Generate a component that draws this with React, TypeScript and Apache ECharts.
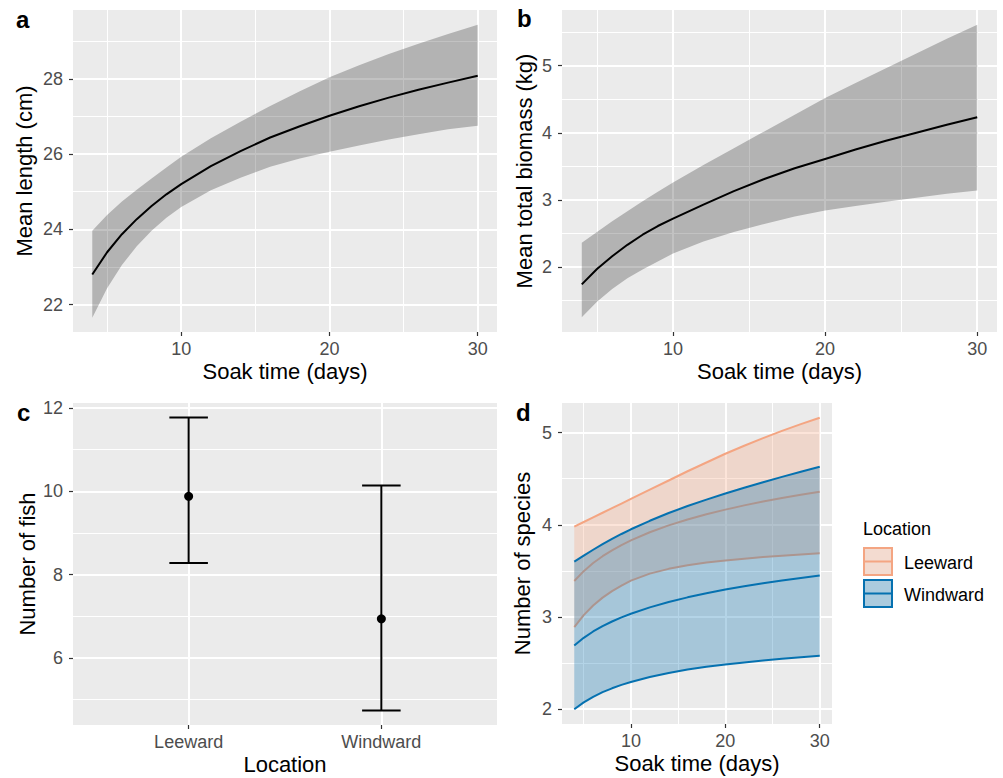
import React, { useEffect, useRef } from "react";
import * as echarts from "echarts";

// ---------- data ----------
const soakDays = [4, 5, 6, 7, 8, 9, 10, 12, 14, 16, 18, 20, 22, 24, 26, 28, 30];

const lengthMean = [22.8, 23.39, 23.87, 24.27, 24.62, 24.93, 25.2, 25.68, 26.08, 26.44, 26.74, 27.02, 27.27, 27.5, 27.71, 27.9, 28.08];
const lengthUpper = [23.96, 24.38, 24.74, 25.05, 25.35, 25.64, 25.93, 26.42, 26.86, 27.28, 27.67, 28.04, 28.36, 28.66, 28.93, 29.19, 29.44];
const lengthLower = [21.65, 22.43, 23.05, 23.55, 23.96, 24.31, 24.59, 25.04, 25.37, 25.66, 25.88, 26.06, 26.23, 26.39, 26.53, 26.66, 26.75];

const biomassMean = [1.74, 1.97, 2.16, 2.33, 2.48, 2.61, 2.72, 2.93, 3.13, 3.31, 3.47, 3.61, 3.75, 3.88, 4.0, 4.12, 4.23];
const biomassUpper = [2.36, 2.52, 2.68, 2.83, 2.98, 3.12, 3.26, 3.52, 3.77, 4.02, 4.27, 4.52, 4.74, 4.96, 5.18, 5.4, 5.61];
const biomassLower = [1.25, 1.48, 1.67, 1.83, 1.96, 2.08, 2.2, 2.38, 2.52, 2.64, 2.75, 2.84, 2.91, 2.97, 3.03, 3.09, 3.14];

const locations = ["Leeward", "Windward"];
const fishMean = [9.88, 6.94];
const fishLower = [8.28, 4.74];
const fishUpper = [11.77, 10.14];

const leewardUpper = [3.98, 4.03, 4.08, 4.13, 4.18, 4.23, 4.28, 4.38, 4.48, 4.58, 4.675, 4.77, 4.857, 4.94, 5.018, 5.091, 5.16];
const leewardMean = [3.39, 3.497, 3.585, 3.659, 3.723, 3.78, 3.831, 3.919, 3.993, 4.057, 4.113, 4.164, 4.21, 4.252, 4.29, 4.326, 4.359];
const leewardLower = [2.89, 3.02, 3.125, 3.21, 3.28, 3.34, 3.395, 3.47, 3.522, 3.562, 3.59, 3.612, 3.632, 3.65, 3.665, 3.678, 3.69];
const windwardUpper = [3.6, 3.666, 3.729, 3.789, 3.846, 3.9, 3.951, 4.043, 4.127, 4.203, 4.273, 4.339, 4.401, 4.461, 4.519, 4.575, 4.629];
const windwardMean = [2.69, 2.774, 2.843, 2.901, 2.951, 2.996, 3.035, 3.104, 3.162, 3.213, 3.257, 3.297, 3.333, 3.366, 3.396, 3.424, 3.45];
const windwardLower = [2.0, 2.075, 2.135, 2.185, 2.227, 2.264, 2.296, 2.35, 2.394, 2.43, 2.46, 2.485, 2.508, 2.528, 2.547, 2.564, 2.58];

// tick / gridline values
const soakTicks = [10, 20, 30];
const soakMinor = [5, 15, 25];
const lengthTicks = [22, 24, 26, 28];
const lengthMinor = [23, 25, 27, 29];
const biomassTicks = [2, 3, 4, 5];
const biomassMinor = [1.5, 2.5, 3.5, 4.5, 5.5];
const fishTicks = [6, 8, 10, 12];
const fishMinor = [5, 7, 9, 11];
const speciesTicks = [2, 3, 4, 5];
const speciesMinor = [2.5, 3.5, 4.5];

// ---------- styling ----------
const FONT = '"Liberation Sans", Arial, Helvetica, sans-serif';
const PANEL_BG = "#EBEBEB";
const TICK_COLOR = "#333333";
const LABEL_COLOR = "#4D4D4D";
const LEE = "#F4A582";
const WIND = "#0571B0";
const CAP = 0.1;

const pairs = (xs: number[], ys: number[]) => xs.map((x, i) => [x, ys[i]]);

function xAxisDef(gridIndex: number, min: number, max: number, ticks: number[], name: string, formatter?: any) {
  return {
    type: "value",
    gridIndex,
    min,
    max,
    name,
    nameLocation: "middle",
    nameGap: 28,
    nameTextStyle: { color: "#000", fontSize: 22, fontFamily: FONT, lineHeight: 22 },
    axisLine: { show: false },
    axisTick: { show: true, length: 4, customValues: ticks, lineStyle: { color: TICK_COLOR, width: 1.2 } },
    axisLabel: {
      show: true,
      customValues: ticks,
      margin: 8,
      color: LABEL_COLOR,
      fontSize: 18,
      fontFamily: FONT,
      lineHeight: 18,
      formatter: formatter || ((v: number) => String(v)),
    },
    splitLine: { show: false },
    minorSplitLine: { show: false },
  };
}

function yAxisDef(gridIndex: number, min: number, max: number, ticks: number[], name: string, nameGap: number) {
  return {
    type: "value",
    gridIndex,
    min,
    max,
    name,
    nameLocation: "middle",
    nameGap,
    nameTextStyle: { color: "#000", fontSize: 22, fontFamily: FONT, lineHeight: 22 },
    axisLine: { show: false },
    axisTick: { show: true, length: 4, customValues: ticks, lineStyle: { color: TICK_COLOR, width: 1.2 } },
    axisLabel: {
      show: true,
      customValues: ticks,
      margin: 10,
      color: LABEL_COLOR,
      fontSize: 18,
      fontFamily: FONT,
      lineHeight: 18,
      formatter: (v: number) => String(v),
    },
    splitLine: { show: false },
    minorSplitLine: { show: false },
  };
}

function gridMarks(xMajor: number[], xMinor: number[], yMajor: number[], yMinor: number[]) {
  const minor = { width: 1, color: "#FFFFFF", type: "solid" };
  const major = { width: 2, color: "#FFFFFF", type: "solid" };
  return {
    silent: true,
    z: 1,
    symbol: ["none", "none"],
    label: { show: false },
    emphasis: { disabled: true },
    lineStyle: major,
    data: [
      ...xMinor.map((v) => ({ xAxis: v, lineStyle: minor })),
      ...yMinor.map((v) => ({ yAxis: v, lineStyle: minor })),
      ...xMajor.map((v) => ({ xAxis: v, lineStyle: major })),
      ...yMajor.map((v) => ({ yAxis: v, lineStyle: major })),
    ],
  };
}

// ribbon between lower and upper drawn as one polygon through the axis scales
function bandSeries(idx: number, lower: number[], upper: number[], fill: string, z: number, extra: any = {}) {
  return {
    type: "custom",
    xAxisIndex: idx,
    yAxisIndex: idx,
    silent: true,
    z,
    data: soakDays.map((x, i) => [x, lower[i], upper[i]]),
    encode: { x: 0, y: [1, 2] },
    renderItem: (params: any, api: any) => {
      if (params.dataIndexInside !== 0) return null;
      const n = soakDays.length;
      const top: number[][] = [];
      const bottom: number[][] = [];
      for (let i = 0; i < n; i++) {
        const x = api.value(0, i);
        top.push(api.coord([x, api.value(2, i)]));
        bottom.push(api.coord([x, api.value(1, i)]));
      }
      return {
        type: "polygon",
        shape: { points: top.concat(bottom.reverse()) },
        style: { fill, stroke: "none" },
      };
    },
    ...extra,
  };
}

function lineSeries(idx: number, ys: number[], color: string, z: number, extra: any = {}) {
  return {
    type: "line",
    xAxisIndex: idx,
    yAxisIndex: idx,
    data: pairs(soakDays, ys),
    symbol: "none",
    showSymbol: false,
    silent: true,
    smooth: false,
    lineStyle: { color, width: 2, join: "round" },
    z,
    ...extra,
  };
}

function buildOption(): any {
  const grid = [
    { left: 73, top: 10, width: 424, height: 322 },
    { left: 562, top: 10, width: 435, height: 322 },
    { left: 73, top: 403, width: 424, height: 322 },
    { left: 562, top: 403, width: 270, height: 321 },
  ].map((g) => ({ ...g, show: true, backgroundColor: PANEL_BG, borderWidth: 0, containLabel: false, outerBoundsMode: "none" }));

  const xAxis = [
    xAxisDef(0, 2.7, 31.3, soakTicks, "Soak time (days)"),
    xAxisDef(1, 2.7, 31.3, soakTicks, "Soak time (days)"),
    xAxisDef(2, 0.4, 2.6, [1, 2], "Location", (v: number) => locations[Math.round(v) - 1] ?? ""),
    xAxisDef(3, 2.7, 31.3, soakTicks, "Soak time (days)"),
  ];
  const yAxis = [
    yAxisDef(0, 21.27, 29.83, lengthTicks, "Mean length (cm)", 38),
    yAxisDef(1, 1.03, 5.83, biomassTicks, "Mean total biomass (kg)", 27),
    yAxisDef(2, 4.39, 12.12, fishTicks, "Number of fish", 35),
    yAxisDef(3, 1.84, 5.32, speciesTicks, "Number of species", 29),
  ];

  const series: any[] = [
    // panel a
    bandSeries(0, lengthLower, lengthUpper, "rgba(0,0,0,0.24)", 2),
    lineSeries(0, lengthMean, "#000000", 3, { markLine: gridMarks(soakTicks, soakMinor, lengthTicks, lengthMinor) }),
    // panel b
    bandSeries(1, biomassLower, biomassUpper, "rgba(0,0,0,0.24)", 2),
    lineSeries(1, biomassMean, "#000000", 3, { markLine: gridMarks(soakTicks, soakMinor, biomassTicks, biomassMinor) }),
    // panel c
    {
      type: "custom",
      xAxisIndex: 2,
      yAxisIndex: 2,
      silent: true,
      z: 2,
      data: locations.map((_, i) => [i + 1, fishLower[i], fishUpper[i]]),
      encode: { x: 0, y: [1, 2] },
      renderItem: (params: any, api: any) => {
        const x = api.value(0);
        const lo = api.value(1);
        const hi = api.value(2);
        const b = api.coord([x, lo]);
        const t = api.coord([x, hi]);
        const l = api.coord([x - CAP, hi])[0];
        const r = api.coord([x + CAP, hi])[0];
        const style = { stroke: "#000000", lineWidth: 2, fill: null };
        return {
          type: "group",
          children: [
            { type: "line", shape: { x1: b[0], y1: b[1], x2: t[0], y2: t[1] }, style },
            { type: "line", shape: { x1: l, y1: t[1], x2: r, y2: t[1] }, style },
            { type: "line", shape: { x1: l, y1: b[1], x2: r, y2: b[1] }, style },
          ],
        };
      },
      markLine: gridMarks([1, 2], [], fishTicks, fishMinor),
    },
    {
      type: "scatter",
      xAxisIndex: 2,
      yAxisIndex: 2,
      silent: true,
      z: 3,
      data: locations.map((_, i) => [i + 1, fishMean[i]]),
      symbol: "circle",
      symbolSize: 9,
      itemStyle: { color: "#000000", opacity: 1 },
    },
    // panel d: leeward first, windward drawn over it
    bandSeries(3, leewardLower, leewardUpper, "rgba(244,165,130,0.3)", 2, {
      markLine: gridMarks(soakTicks, soakMinor, speciesTicks, speciesMinor),
    }),
    lineSeries(3, leewardUpper, LEE, 3),
    lineSeries(3, leewardMean, LEE, 3),
    lineSeries(3, leewardLower, LEE, 3),
    bandSeries(3, windwardLower, windwardUpper, "rgba(5,113,176,0.3)", 4),
    lineSeries(3, windwardUpper, WIND, 5),
    lineSeries(3, windwardMean, WIND, 5),
    lineSeries(3, windwardLower, WIND, 5),
  ];

  const panelLabel = (text: string, x: number, y: number) => ({
    type: "text",
    x,
    y,
    silent: true,
    style: { text, fill: "#000", font: `bold 24px ${FONT}`, align: "left", verticalAlign: "middle" },
  });

  const legendText = (text: string, x: number, y: number) => ({
    type: "text",
    x,
    y,
    silent: true,
    style: { text, fill: "#000", font: `18px ${FONT}`, align: "left", verticalAlign: "middle" },
  });

  const legendKey = (y: number, color: string, fill: string) => ({
    type: "group",
    silent: true,
    children: [
      { type: "rect", shape: { x: 863, y, width: 30, height: 29 }, style: { fill: "#F2F2F2" } },
      { type: "rect", shape: { x: 864, y: y + 1, width: 28, height: 27 }, style: { fill, stroke: color, lineWidth: 2 } },
      { type: "line", shape: { x1: 865, y1: y + 14.5, x2: 891, y2: y + 14.5 }, style: { stroke: color, lineWidth: 2 } },
    ],
  });

  const graphic = [
    panelLabel("a", 16, 19.5),
    panelLabel("b", 517, 18.5),
    panelLabel("c", 17, 412.5),
    panelLabel("d", 516, 412.5),
    legendText("Location", 863, 528.7),
    legendKey(547, LEE, "rgba(244,165,130,0.3)"),
    legendKey(579, WIND, "rgba(5,113,176,0.3)"),
    legendText("Leeward", 904, 562.5),
    legendText("Windward", 904, 595),
  ];

  return {
    animation: false,
    backgroundColor: "#FFFFFF",
    textStyle: { fontFamily: FONT },
    grid,
    xAxis,
    yAxis,
    series,
    graphic,
  };
}

export default function App() {
  const ref = useRef<HTMLDivElement>(null);
  useEffect(() => {
    if (!ref.current) return;
    const chart = echarts.init(ref.current, null, { renderer: "svg" });
    chart.setOption(buildOption());
    return () => chart.dispose();
  }, []);
  return (
    <div
      ref={ref}
      style={{ position: "absolute", left: 0, top: 0, width: 1003, height: 778, background: "#FFFFFF" }}
    />
  );
}
